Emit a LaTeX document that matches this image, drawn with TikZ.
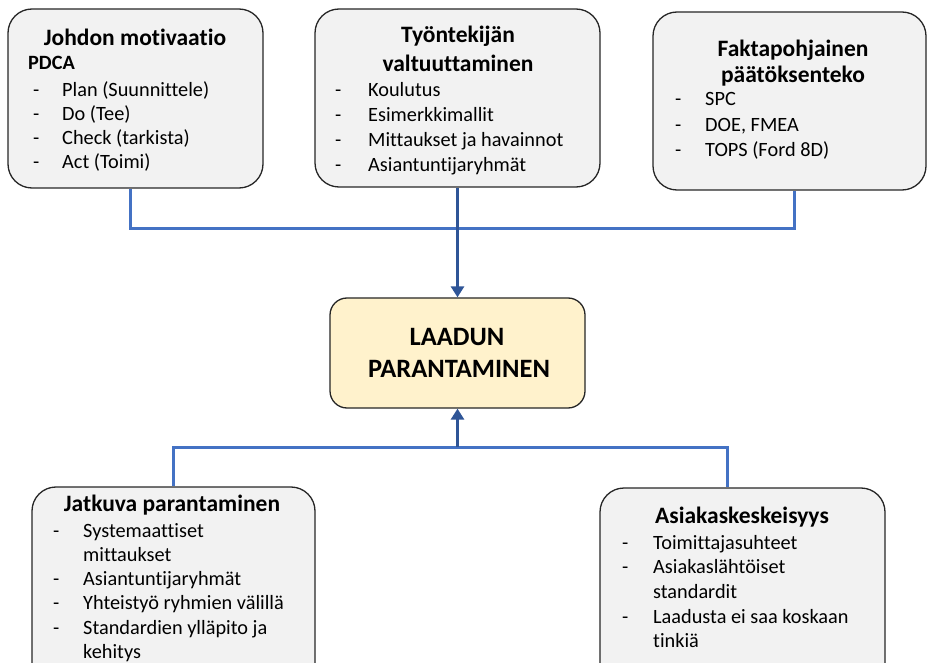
\documentclass[tikz,border=0pt]{standalone}
\usepackage{fontspec}
\setmainfont{Carlito}[Ligatures=NoCommon]
\usetikzlibrary{arrows.meta}

\definecolor{boxfill}{HTML}{F2F2F2}
\definecolor{boxline}{HTML}{262626}
\definecolor{centerfill}{HTML}{FFF2CC}
\definecolor{linkblue}{HTML}{4472C4}
\definecolor{arrowblue}{HTML}{2F5597}

\tikzset{
  box/.style={draw=boxline, line width=1.3pt, fill=boxfill, rounded corners=24pt, inner sep=0pt},
  centerbox/.style={draw=boxline, line width=1.3pt, fill=centerfill, rounded corners=17pt, inner sep=0pt},
  ttl/.style={font=\fontsize{23.5}{27}\selectfont\bfseries, anchor=base, inner sep=0pt},
  big/.style={font=\fontsize{26.5}{30}\selectfont\bfseries, anchor=base, inner sep=0pt},
  txt/.style={font=\fontsize{20.3}{24}\selectfont, anchor=base west, inner sep=0pt},
  btxt/.style={font=\fontsize{20.3}{24}\selectfont\bfseries, anchor=base west, inner sep=0pt},
  conn/.style={draw=linkblue, line width=3pt},
  arr/.style={draw=arrowblue, fill=arrowblue, line width=3pt, -{Triangle[length=11pt,width=13pt]}},
}

% one bulleted line: dash node and text node
\newcommand{\bline}[5]{%
  \node[txt] (#1d) at (#2,#4) {-};
  \node[txt] (#1) at (#3,#4) {#5};
}

\begin{document}
\begin{tikzpicture}[x=1pt,y=-1pt]
\useasboundingbox (0,0) rectangle (927,663);
\clip (0,0) rectangle (927,663);

% boxes
\node[box, minimum width=255pt, minimum height=179pt] (b1) at (135.5,98.5) {};
\node[box, minimum width=285pt, minimum height=178pt] (b2) at (457.5,98) {};
\node[box, minimum width=273pt, minimum height=178pt] (b3) at (789.5,101) {};
\node[centerbox, minimum width=255pt, minimum height=110pt] (ctr) at (457.5,353) {};
\node[box, minimum width=283pt, minimum height=220pt] (b4) at (173.5,597) {};
\node[box, minimum width=285pt, minimum height=220pt] (b5) at (742.5,598) {};

% Johdon motivaatio
\node[ttl] (t1) at (135,46) {Johdon motivaatio};
\node[btxt] (pdca) at (28,70) {PDCA};
\bline{a1}{33}{62}{97}{Plan (Suunnittele)}
\bline{a2}{33}{62}{121}{Do (Tee)}
\bline{a3}{33}{62}{145}{Check (tarkista)}
\bline{a4}{33}{62}{169}{Act (Toimi)}

% Työntekijän valtuuttaminen
\node[ttl] (t2a) at (458,43) {Työntekijän};
\node[ttl] (t2b) at (458,72) {valtuuttaminen};
\bline{c1}{335}{368}{97}{Koulutus}
\bline{c2}{335}{368}{122}{Esimerkkimallit}
\bline{c3}{335}{368}{147}{Mittaukset ja havainnot}
\bline{c4}{335}{368}{172}{Asiantuntijaryhmät}

% Faktapohjainen päätöksenteko
\node[ttl] (t3a) at (793,57) {Faktapohjainen};
\node[ttl] (t3b) at (793,83) {päätöksenteko};
\bline{f1}{675}{705}{106}{SPC}
\bline{f2}{675}{705}{132}{DOE, FMEA}
\bline{f3}{675}{705}{157}{TOPS (Ford 8D)}

% Laadun parantaminen
\node[big] (l1) at (457,345) {LAADUN};
\node[big] (l2) at (459,377) {PARANTAMINEN};

% Jatkuva parantaminen
\node[ttl] (t4) at (172,511) {Jatkuva parantaminen};
\bline{j1}{53}{83}{537}{Systemaattiset}
\node[txt] (j1b) at (83,561) {mittaukset};
\bline{j2}{53}{83}{585}{Asiantuntijaryhmät}
\bline{j3}{53}{83}{609}{Yhteistyö ryhmien välillä}
\bline{j4}{53}{83}{634}{Standardien ylläpito ja}
\node[txt] (j4b) at (83,658) {kehitys};

% Asiakaskeskeisyys
\node[ttl] (t5) at (742,523) {Asiakaskeskeisyys};
\bline{k1}{622}{653}{549}{Toimittajasuhteet}
\bline{k2}{622}{653}{573}{Asiakaslähtöiset}
\node[txt] (k2b) at (653,598) {standardit};
\bline{k3}{622}{653}{623}{Laadusta ei saa koskaan}
\node[txt] (k3b) at (653,647) {tinkiä};

% connectors
\coordinate (leftTop) at (130,0);
\coordinate (rightTop) at (794,0);
\coordinate (busTop) at (457.5,229);
\coordinate (busBot) at (457.5,447);
\coordinate (rightBot) at (727,0);

\draw[conn] (b1.south -| leftTop) |- (busTop) -| (b3.south -| rightTop);
\draw[conn] (b4.north) |- (busBot) -| (b5.north -| rightBot);
\draw[arr] (b2.south) -- (ctr.north);
\draw[arr] (busBot) -- (ctr.south);
\end{tikzpicture}
\end{document}
